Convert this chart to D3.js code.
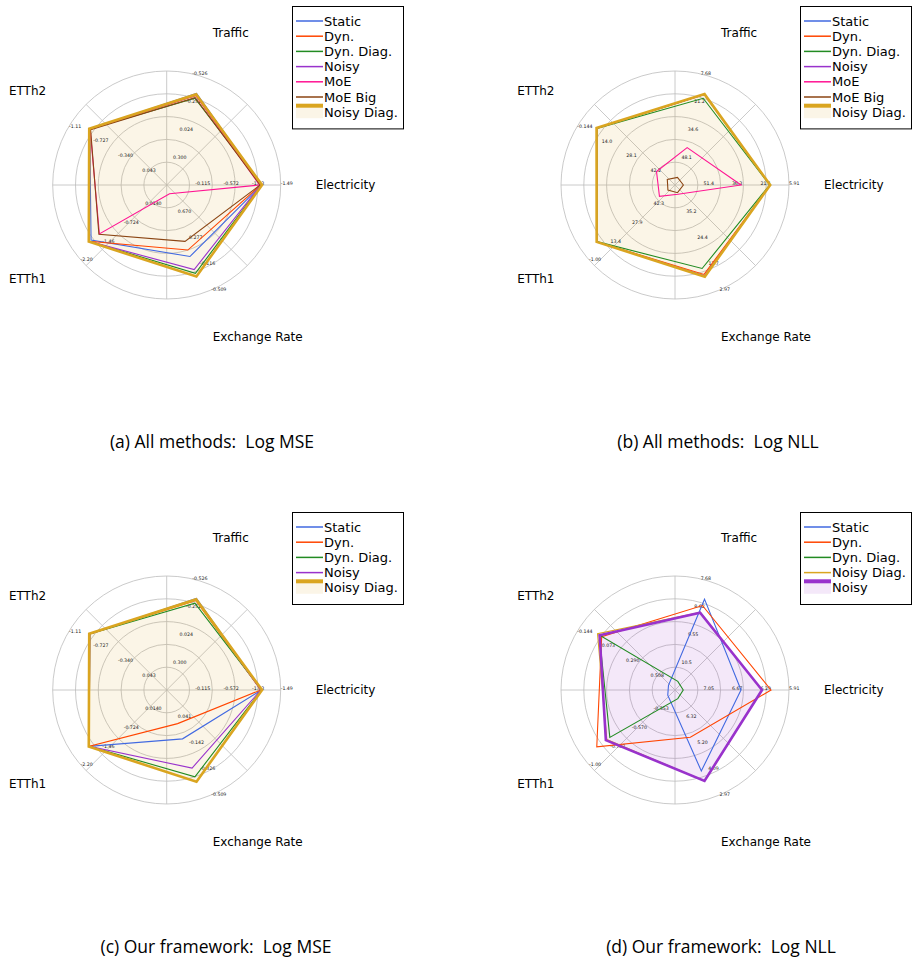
<!DOCTYPE html>
<html>
<head>
<meta charset="utf-8">
<script src="https://cdn.jsdelivr.net/npm/d3@7"></script>
<style>
  body { margin: 0; background: #fff; }
  svg { display: block; }
</style>
</head>
<body>
<svg id="fig" width="917" height="978"></svg>
<script>
// axes go counter-clockwise from 3 o'clock
var axisNames = ['Electricity', 'Traffic', 'ETTh2', 'ETTh1', 'Exchange Rate']

// radial tick labels, one list per axis, inner ring -> outer ring
var mseTicksAll = [
  ['-0.115', '-0.572', '-1.03', '-1.49'],
  ['0.300', '0.024', '-0.252', '-0.526'],
  ['0.043', '-0.340', '-0.727', '-1.11'],
  ['0.0140', '-0.724', '-1.46', '-2.20'],
  ['0.670', '0.277', '-0.116', '-0.509']
]
var nllTicksAll = [
  ['51.4', '36.3', '21.1', '5.91'],
  ['48.1', '34.6', '21.2', '7.68'],
  ['42.2', '28.1', '14.0', '-0.144'],
  ['42.3', '27.9', '13.4', '-1.00'],
  ['35.2', '24.4', '13.7', '2.97']
]
var mseTicksOurs = [
  ['-0.115', '-0.572', '-1.03', '-1.49'],
  ['0.300', '0.024', '-0.252', '-0.526'],
  ['0.043', '-0.340', '-0.727', '-1.11'],
  ['0.0140', '-0.724', '-1.46', '-2.20'],
  ['0.041', '-0.142', '-0.326', '-0.509']
]
var nllTicksOurs = [
  ['7.05', '6.67', '6.29', '5.91'],
  ['10.5', '9.55', '8.62', '7.68'],
  ['0.508', '0.290', '0.073', '-0.144'],
  ['-0.353', '-0.570', '-0.787', '-1.00'],
  ['6.32', '5.20', '4.09', '2.97']
]

var methodsAll = ['Static', 'Dyn.', 'Dyn. Diag.', 'Noisy', 'MoE', 'MoE Big', 'Noisy Diag.']
var methodsOurs = ['Static', 'Dyn.', 'Dyn. Diag.', 'Noisy', 'Noisy Diag.']
var methodsOursNll = ['Static', 'Dyn.', 'Dyn. Diag.', 'Noisy Diag.', 'Noisy']

// values in axisNames order
// (a) all methods, log MSE
var mseAllStatic = [-1.18, -0.356, -0.856, -1.669, 0.026]
var mseAllDyn = [-1.17, -0.334, -0.856, -1.728, 0.120]
var mseAllDynDiag = [-1.18, -0.306, -0.856, -1.728, -0.218]
var mseAllNoisy = [-1.17, -0.345, -0.856, -1.728, -0.163]
var mseAllMoe = [-1.15, -0.334, -0.849, -1.403, 0.937]
var mseAllMoeBig = [-1.16, -0.312, -0.841, -1.418, 0.246]
var mseAllNoisyDiag = [-1.19, -0.345, -0.864, -1.742, -0.264]

// (b) all methods, log NLL
var nllAllStatic = [16.0, 16.6, 8.42, 7.78, 9.93]
var nllAllDyn = [16.0, 16.6, 8.42, 7.78, 10.49]
var nllAllDynDiag = [16.2, 18.46, 8.59, 7.95, 12.85]
var nllAllNoisy = [16.0, 16.6, 8.42, 7.78, 9.85]
var nllAllMoe = [31.4, 43.0, 45.0, 47.0, 42.3]
var nllAllMoeBig = [62.1, 57.8, 51.6, 52.3, 42.9]
var nllAllNoisyDiag = [15.9, 16.4, 8.3, 7.7, 9.59]

// (c) our framework, log MSE
var mseOursStatic = [-1.18, -0.356, -0.856, -1.728, -0.106]
var mseOursDyn = [-1.17, -0.334, -0.856, -1.728, -0.003]
var mseOursDynDiag = [-1.18, -0.306, -0.856, -1.728, -0.363]
var mseOursNoisy = [-1.17, -0.345, -0.856, -1.728, -0.304]
var mseOursNoisyDiag = [-1.19, -0.345, -0.864, -1.742, -0.396]

// (d) our framework, log NLL
var nllOursStatic = [6.55, 8.29, 0.664, -0.205, 4.10]
var nllOursDyn = [6.15, 8.51, 0.034, -0.869, 5.49]
var nllOursDynDiag = [7.32, 11.14, 0.012, -0.747, 7.08]
var nllOursNoisyDiag = [6.27, 8.75, -0.005, -0.775, 3.685]
var nllOursNoisy = [6.27, 8.76, 0.015, -0.784, 3.694]

var methodColors = {
  'Static': '#4169e1',
  'Dyn.': '#ff4500',
  'Dyn. Diag.': '#228b22',
  'Noisy': '#9932cc',
  'MoE': '#ff1493',
  'MoE Big': '#8b4513',
  'Noisy Diag.': '#daa520'
}

var panels = [
  { cx: 166.7, cy: 185, ticks: mseTicksAll, methods: methodsAll, highlight: 'Noisy Diag.',
    values: [mseAllStatic, mseAllDyn, mseAllDynDiag, mseAllNoisy, mseAllMoe, mseAllMoeBig, mseAllNoisyDiag],
    legendX: 292, legendY: 6, captionX: 212, captionY: 448, caption: '(a) All methods:\u00a0 Log MSE' },
  { cx: 675, cy: 185, ticks: nllTicksAll, methods: methodsAll, highlight: 'Noisy Diag.',
    values: [nllAllStatic, nllAllDyn, nllAllDynDiag, nllAllNoisy, nllAllMoe, nllAllMoeBig, nllAllNoisyDiag],
    legendX: 800, legendY: 6, captionX: 718, captionY: 448, caption: '(b) All methods:\u00a0 Log NLL' },
  { cx: 166.7, cy: 690, ticks: mseTicksOurs, methods: methodsOurs, highlight: 'Noisy Diag.',
    values: [mseOursStatic, mseOursDyn, mseOursDynDiag, mseOursNoisy, mseOursNoisyDiag],
    legendX: 292, legendY: 512, captionX: 216, captionY: 953, caption: '(c) Our framework:\u00a0 Log MSE' },
  { cx: 675, cy: 690, ticks: nllTicksOurs, methods: methodsOursNll, highlight: 'Noisy',
    values: [nllOursStatic, nllOursDyn, nllOursDynDiag, nllOursNoisyDiag, nllOursNoisy],
    legendX: 800, legendY: 512, captionX: 721, captionY: 953, caption: '(d) Our framework:\u00a0 Log NLL' }
]

var svg = d3.select('#fig')
var R = 114
var nameFont = 'DejaVu Sans, sans-serif'

function drawRadar (p) {
  var g = svg.append('g')
    .attr('transform', 'translate(' + p.cx + ',' + p.cy + ')')

  var angles = axisNames.map(function (d, i) { return i * 2 * Math.PI / axisNames.length })

  // one linear scale per axis, ticks sit at R/4, R/2, 3R/4, R
  var scales = p.ticks.map(function (t) {
    return d3.scaleLinear().domain([+t[0], +t[3]]).range([R / 4, R])
  })

  // polar grid
  g.selectAll('circle.ring')
    .data([0.2, 0.4, 0.6, 0.8, 1.0]).enter().append('circle')
    .attr('class', 'ring')
    .attr('r', function (d) { return d * R })
    .attr('fill', 'none')
    .attr('stroke', '#bdbdbd')
    .attr('stroke-width', 0.8)

  g.selectAll('line.spoke')
    .data([0, 45, 90, 135]).enter().append('line')
    .attr('class', 'spoke')
    .attr('x1', function (d) { return -R * Math.cos(d * Math.PI / 180) })
    .attr('y1', function (d) { return R * Math.sin(d * Math.PI / 180) })
    .attr('x2', function (d) { return R * Math.cos(d * Math.PI / 180) })
    .attr('y2', function (d) { return -R * Math.sin(d * Math.PI / 180) })
    .attr('stroke', '#bdbdbd')
    .attr('stroke-width', 0.8)

  var line = d3.line()
    .x(function (d, i) { return scales[i](d) * Math.cos(angles[i]) })
    .y(function (d, i) { return -scales[i](d) * Math.sin(angles[i]) })
    .curve(d3.curveLinearClosed)

  // fill of the highlighted method
  var hi = p.methods.indexOf(p.highlight)
  g.append('path')
    .datum(p.values[hi])
    .attr('d', line)
    .attr('fill', methodColors[p.highlight])
    .attr('fill-opacity', 0.11)
    .attr('stroke', 'none')

  // tick labels
  axisNames.forEach(function (name, i) {
    var a = angles[i] + (i === 0 ? 0 : 5 * Math.PI / 180)
    g.selectAll('text.tick' + i)
      .data(p.ticks[i]).enter().append('text')
      .attr('class', 'tick' + i)
      .attr('x', function (t) { return scales[i](+t) * Math.cos(a) })
      .attr('y', function (t) { return -scales[i](+t) * Math.sin(a) - (i === 0 ? 1.5 : 0) })
      .attr('dominant-baseline', 'central')
      .attr('font-family', nameFont)
      .attr('font-size', 4.7)
      .attr('fill', '#222')
      .text(function (t) { return t })
  })

  // series lines
  p.methods.forEach(function (m, k) {
    g.append('path')
      .datum(p.values[k])
      .attr('d', line)
      .attr('fill', 'none')
      .attr('stroke', methodColors[m])
      .attr('stroke-width', m === p.highlight ? 2.6 : 1.1)
      .attr('stroke-linejoin', 'miter')
  })

  // axis names
  g.selectAll('text.axisname')
    .data(axisNames).enter().append('text')
    .attr('class', 'axisname')
    .attr('x', function (d, i) { return 149 * Math.cos(angles[i]) })
    .attr('y', function (d, i) { return -160 * Math.sin(angles[i]) })
    .attr('text-anchor', function (d, i) { return Math.cos(angles[i]) >= 0 ? 'start' : 'end' })
    .attr('dominant-baseline', 'central')
    .attr('font-family', nameFont)
    .attr('font-size', 12)
    .attr('fill', '#000')
    .text(function (d) { return d })

  // legend
  var rowH = 15.2
  var lg = svg.append('g')
    .attr('transform', 'translate(' + p.legendX + ',' + p.legendY + ')')
  lg.append('rect')
    .attr('x', 0.5).attr('y', 0.5)
    .attr('width', 111)
    .attr('height', p.methods.length * rowH + 16)
    .attr('fill', '#fff')
    .attr('stroke', '#000')
    .attr('stroke-width', 1)

  p.methods.forEach(function (m, k) {
    var yc = 15 + k * rowH
    if (m === p.highlight) {
      lg.append('rect')
        .attr('x', 4).attr('y', yc - 6)
        .attr('width', 27).attr('height', 12)
        .attr('fill', methodColors[m])
        .attr('fill-opacity', 0.11)
      lg.append('line')
        .attr('x1', 4).attr('x2', 31)
        .attr('y1', yc - 6.5).attr('y2', yc - 6.5)
        .attr('stroke', methodColors[m])
        .attr('stroke-width', 4)
    } else {
      lg.append('line')
        .attr('x1', 4).attr('x2', 31)
        .attr('y1', yc).attr('y2', yc)
        .attr('stroke', methodColors[m])
        .attr('stroke-width', 1.5)
    }
    lg.append('text')
      .attr('x', 32)
      .attr('y', yc)
      .attr('dominant-baseline', 'central')
      .attr('font-family', nameFont)
      .attr('font-size', 13)
      .attr('fill', '#000')
      .text(m)
  })

  svg.append('text')
    .attr('x', p.captionX)
    .attr('y', p.captionY)
    .attr('text-anchor', 'middle')
    .attr('font-family', 'Open Sans, sans-serif')
    .attr('font-size', 17.5)
    .attr('fill', '#000')
    .text(p.caption)
}

panels.forEach(drawRadar)
</script>
</body>
</html>
